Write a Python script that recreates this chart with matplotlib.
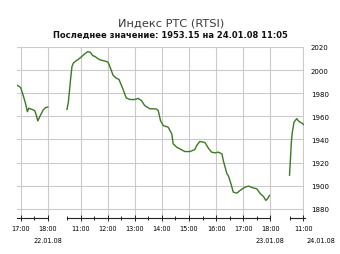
import matplotlib

matplotlib.use("Agg")
import matplotlib.pyplot as plt
import numpy as np

# --- данные (время, значение) по трём торговым сессиям ---
DAYS = ["22.01.08", "23.01.08", "24.01.08"]
SESSIONS = [("16:52", "18:00"), ("10:30", "18:00"), ("10:30", "11:05")]

times_22 = ["16:52", "17:00", "17:05", "17:11", "17:15", "17:18", "17:25",
            "17:31", "17:34", "17:38", "17:44", "17:50", "17:55", "18:00"]
vals_22 = [1987, 1985, 1979, 1971, 1964, 1967, 1966,
           1965, 1962, 1956, 1961, 1965.5, 1967.5, 1968]

times_23 = ["10:30", "10:33", "10:38", "10:41", "10:44", "10:50", "10:54",
            "11:02", "11:09", "11:16", "11:22", "11:27", "11:31", "11:42",
            "11:56", "12:01", "12:07", "12:12", "12:19", "12:25", "12:34",
            "12:41", "12:49", "12:58", "13:04", "13:07", "13:15", "13:22",
            "13:33", "13:47", "13:52", "13:57", "14:03", "14:14", "14:22",
            "14:25", "14:33", "14:40", "14:51", "15:02", "15:13", "15:17",
            "15:24", "15:33", "15:36", "15:43", "15:50", "15:58", "16:05",
            "16:13", "16:16", "16:24", "16:27", "16:33", "16:38", "16:46",
            "16:53", "17:04", "17:12", "17:23", "17:30", "17:38", "17:45",
            "17:50", "17:55", "17:58"]
vals_23 = [1966, 1972, 1992, 2003, 2006, 2008, 2009,
           2011.5, 2014, 2016, 2015.4, 2012.5, 2012, 2009,
           2007.6, 2006.8, 2001, 1995.5, 1993, 1992, 1983.5,
           1976, 1974.6, 1974.5, 1975, 1975.6, 1973.6, 1969.3,
           1966.6, 1966.4, 1965, 1956.3, 1952, 1950.6, 1944.8,
           1936.2, 1933.3, 1931.8, 1929.5, 1929.5, 1931.2, 1934.7,
           1938.2, 1937.6, 1937, 1932.4, 1929, 1928.4, 1929,
           1927.5, 1921.7, 1910.2, 1908.8, 1901.6, 1894.4, 1893.5,
           1895.8, 1898.7, 1899.6, 1897.9, 1897.3, 1893, 1890.6,
           1887.2, 1889.2, 1891.5]

times_24 = ["10:30", "10:32", "10:34", "10:36", "10:40", "10:46", "10:49",
            "10:53", "10:58", "11:02", "11:05"]
vals_24 = [1909, 1923, 1937.6, 1946, 1955, 1958, 1956.3,
           1955, 1954, 1952.6, 1953.15]

Y_TICKS = [1880, 1900, 1920, 1940, 1960, 1980, 2000, 2020]

GAP = 0.71  # разрыв между сессиями, ч


def hrs(s):
    h, m = s.split(":")
    return int(h) + int(m) / 60


# смещения оси: сессии склеены подряд с небольшим разрывом
offsets = []
for i, (a, b) in enumerate(SESSIONS):
    if i == 0:
        offsets.append(-hrs("17:00"))
    else:
        prev_end = hrs(SESSIONS[i - 1][1]) + offsets[i - 1]
        offsets.append(prev_end + GAP - hrs(a))

W, H = 340, 255
fig = plt.figure(figsize=(W / 100, H / 100), dpi=100)
fig.patch.set_facecolor("white")
ax = fig.add_axes([17 / W, 1 - 219 / H, 287 / W, (219 - 48) / H])

LINE = "#3a7a22"
GRID = "#cacaca"

for k, (t, v) in enumerate([(times_22, vals_22), (times_23, vals_23),
                            (times_24, vals_24)]):
    x = np.array([hrs(s) for s in t]) + offsets[k]
    ax.plot(x, v, color=LINE, lw=1.0, solid_joinstyle="round")

x0 = hrs(SESSIONS[0][0]) + offsets[0]
x1 = hrs(SESSIONS[-1][1]) + offsets[-1]
ax.set_xlim(x0, x1 - 0.05)
ax.set_ylim(1872, 2020)

# часы и получасы внутри сессий
major, minor, labels = [], [], []
for k, (a, b) in enumerate(SESSIONS):
    h = np.ceil(hrs(a) * 2) / 2
    while h <= hrs(b) + 1e-9:
        if abs(h - round(h)) < 1e-9:
            major.append(h + offsets[k])
            labels.append(f"{int(h)}:00")
        else:
            minor.append(h + offsets[k])
        h += 0.5
    # линия оси для сессии
    xa = max(hrs(a) + offsets[k], x0)
    xb = min(hrs(b) + offsets[k], x1)
    ax.plot([xa, xb], [0, 0], color="#222222", lw=0.8,
            transform=ax.get_xaxis_transform(), clip_on=False)

ax.set_xticks(major)
ax.set_xticklabels(labels, fontsize=4.7)
ax.set_xticks(minor, minor=True)
ax.tick_params(axis="x", which="major", direction="inout", length=4.5,
               width=0.7, color="#222222", pad=2.5)
ax.tick_params(axis="x", which="minor", direction="inout", length=3,
               width=0.7, color="#222222")

ax.yaxis.tick_right()
ax.set_yticks(Y_TICKS)
ax.set_yticklabels([str(v) for v in Y_TICKS], fontsize=5.0)
ax.tick_params(axis="y", length=0, pad=5)

ax.grid(True, which="major", color=GRID, lw=0.8)
ax.set_axisbelow(True)
for sp in ax.spines.values():
    sp.set_visible(False)

# даты под часами
for k, d in enumerate(DAYS[:2]):
    ax.text(hrs(SESSIONS[k][1]) + offsets[k], -0.13, d, fontsize=4.7,
            ha="center", va="center", transform=ax.get_xaxis_transform())
fig.text(321 / W, 1 - 241 / H, DAYS[2], fontsize=4.7, ha="center",
         va="center")

fig.text(171 / W, 1 - 24 / H, "Индекс РТС (RTSI)", fontsize=8.2,
         color="#3a3a3a", ha="center", va="center")
fig.text(170 / W, 1 - 35 / H,
         "Последнее значение: 1953.15 на 24.01.08 11:05",
         fontsize=6.0, fontweight="bold", color="#111111",
         ha="center", va="center")

fig.savefig("out.png", dpi=100, facecolor="white")
